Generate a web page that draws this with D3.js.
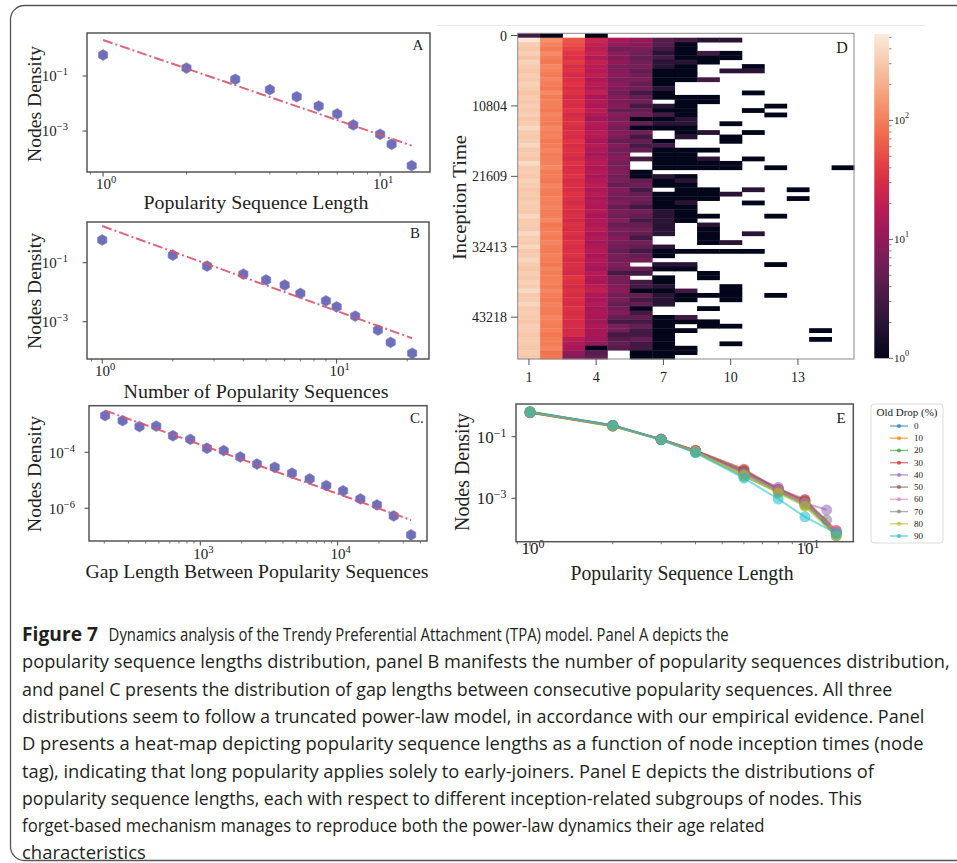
<!DOCTYPE html>
<html>
<head>
<meta charset="utf-8">
<script src="https://d3js.org/d3.v7.min.js"></script>
<style>
  body { margin: 0; background: #fff; }
  svg { display: block; }
  .serif { font-family: "Liberation Serif", "DejaVu Serif", serif; fill: #222; }
  .caption { font-family: "Open Sans", "Noto Sans", sans-serif; font-size: 19px; fill: #231f20; }
</style>
</head>
<body>
<svg id="fig" width="957" height="863"></svg>
<script>
// ---- panel A: popularity sequence length distribution
const seqLenX = [1, 2, 3, 4, 5, 6, 7, 8, 10, 11, 13];
const seqLenY = [0.58, 0.195, 0.076, 0.032, 0.0177, 0.0081, 0.0042, 0.00166, 0.00076, 0.00033, 0.000055];
const seqLenFit = [[1, 2.04], [13, 2.95e-4]];

// ---- panel B: number of popularity sequences
const numSeqX = [1, 2, 2.8, 4, 5, 6, 7, 9, 10, 12, 15, 17, 21];
const numSeqY = [0.59, 0.18, 0.077, 0.041, 0.026, 0.0175, 0.0091, 0.0051, 0.0032, 0.00155, 0.00052, 0.0002, 0.000085];
const numSeqFit = [[1, 1.75], [21, 2.75e-4]];

// ---- panel C: gap length between sequences
const gapX = [203, 272, 361, 478, 632, 846, 1118, 1480, 1955, 2587, 3478, 4649, 6250, 8260, 10940, 14630, 19330, 25570, 34200];
const gapY = [2.04e-3, 1.35e-3, 8.3e-4, 8.6e-4, 3.9e-4, 2.9e-4, 1.39e-4, 1.15e-4, 6.8e-5, 3.8e-5, 2.9e-5, 1.78e-5, 1.12e-5, 6.45e-6, 4.2e-6, 2.15e-6, 1.32e-6, 5.3e-7, 1.12e-7];
const gapFit = [[203, 3.1e-3], [34200, 3.8e-7]];

// ---- panel D: heat-map, rows = inception-time bins, columns = sequence length 1..15
const heatYTickRows = [0, 16, 32, 48, 64];
const heatYTickLabels = ["0", "10804", "21609", "32413", "43218"];
const heatXTicks = [1, 4, 7, 10, 13];
const col1 = [3, 520, 330, 300, 340, 280, 360, 310, 290, 330,
  300, 350, 320, 280, 310, 300, 340, 300, 330, 290,
  310, 400, 320, 300, 330, 380, 300, 320, 290, 420,
  310, 330, 300, 350, 320, 290, 310, 300, 340, 320,
  300, 380, 310, 320, 300, 400, 330, 310, 390, 300,
  320, 380, 310, 290, 330, 300, 350, 320, 400, 300,
  310, 370, 300, 330, 310, 290, 340, 320, 300, 330,
  310, 290, 320, 300];
const col2 = [1, 130, 110, 95, 120, 100, 90, 115, 105, 95,
  110, 100, 90, 120, 95, 105, 100, 90, 110, 100,
  95, 115, 100, 105, 90, 100, 110, 95, 100, 105,
  120, 95, 100, 90, 110, 100, 95, 105, 100, 110,
  95, 100, 115, 90, 100, 105, 95, 110, 100, 95,
  105, 100, 90, 110, 95, 100, 105, 95, 115, 100,
  90, 105, 100, 95, 110, 100, 95, 105, 90, 100,
  95, 110, 85, 90];
const col3 = [0, 56, 52, 44, 36, 32, 40, 30, 34, 29,
  32, 36, 30, 34, 28, 32, 30, 35, 29, 32,
  34, 30, 32, 29, 36, 30, 34, 32, 28, 35,
  30, 32, 34, 29, 32, 30, 35, 32, 29, 34,
  30, 32, 28, 34, 30, 32, 29, 35, 30, 32,
  34, 29, 32, 30, 28, 38, 32, 29, 34, 30,
  32, 29, 34, 30, 32, 29, 30, 27, 29, 18,
  16, 14, 10, 8];
const col4 = [1, 24, 20, 18, 22, 16, 20, 18, 17, 19,
  15, 18, 16, 20, 14, 17, 15, 18, 16, 12,
  17, 15, 18, 16, 14, 17, 15, 13, 16, 18,
  15, 17, 14, 16, 18, 15, 17, 14, 16, 15,
  17, 14, 16, 15, 18, 14, 16, 13, 15, 17,
  14, 16, 15, 13, 17, 15, 14, 18, 20, 15,
  14, 16, 13, 15, 14, 12, 15, 13, 14, 12,
  10, 1, 4, 5];
const col5 = [0, 14, 10, 6, 9, 8, 10, 7, 8, 9,
  7, 9, 8, 6, 8, 7, 9, 5, 8, 7,
  9, 6, 8, 7, 5, 8, 6, 7, 9, 6,
  7, 8, 6, 7, 5, 8, 7, 6, 8, 5,
  7, 6, 8, 5, 7, 6, 8, 7, 6, 5,
  7, 6, 8, 6, 3, 7, 6, 8, 9, 6,
  7, 5, 6, 8, 5, 3, 7, 6, 3, 4,
  5, 4, 0, 0];
const col6 = [0, 10, 9, 7, 6, 5, 6, 7, 5, 6,
  7, 5, 6, 3, 5, 6, 3, 5, 6, 1,
  5, 1, 6, 3, 5, 3, 5, 0, 3, 0,
  0, 1, 1, 5, 6, 3, 5, 6, 5, 3,
  6, 5, 3, 5, 6, 5, 3, 6, 5, 3,
  5, 6, 0, 5, 3, 0, 3, 3, 1, 5,
  3, 5, 1, 3, 5, 3, 5, 3, 3, 5,
  3, 3, 1, 1];
const col7 = [0, 4, 4, 3, 2, 3, 2, 2, 1, 1,
  1, 1, 2, 1, 1, 0, 2, 1, 3, 1,
  2, 1, 0, 0, 1, 3, 1, 1, 1, 1,
  1, 0, 2, 1, 1, 0, 1, 1, 1, 1,
  2, 2, 2, 2, 2, 2, 0, 0, 2, 1,
  1, 0, 2, 1, 0, 1, 1, 2, 1, 2,
  2, 2, 0, 0, 1, 1, 1, 1, 1, 1,
  1, 1, 1, 1];
const col8 = [0, 3, 1, 1, 1, 1, 2, 1, 1, 1,
  1, 0, 0, 0, 1, 1, 1, 1, 1, 2,
  2, 1, 1, 2, 0, 0, 1, 1, 1, 1,
  1, 0, 1, 2, 1, 1, 1, 1, 2, 1,
  1, 1, 1, 0, 0, 0, 0, 0, 0, 1,
  0, 0, 2, 1, 0, 0, 0, 0, 3, 1,
  1, 0, 0, 0, 3, 1, 0, 1, 0, 0,
  0, 1, 1, 0];
// sparse long-sequence cells: [column, row, count]
const sparseCells = [
  [9, 1, 2], [9, 4, 3], [9, 5, 1], [9, 6, 1], [9, 10, 3], [9, 14, 1], [9, 15, 1], [9, 22, 2],
  [9, 26, 1], [9, 28, 2], [9, 29, 1], [9, 30, 1], [9, 35, 1], [9, 36, 1], [9, 37, 1], [9, 41, 1],
  [9, 43, 2], [9, 44, 1], [9, 45, 1], [9, 46, 1], [9, 47, 1], [9, 49, 1], [9, 54, 1], [9, 55, 1],
  [9, 59, 1], [9, 62, 1], [9, 65, 1], [9, 66, 1],
  [10, 1, 2], [10, 4, 1], [10, 5, 1], [10, 8, 2], [10, 20, 1], [10, 23, 1], [10, 24, 1], [10, 29, 1],
  [10, 30, 1], [10, 36, 2], [10, 47, 2], [10, 49, 1], [10, 57, 1], [10, 58, 1], [10, 59, 1],
  [10, 60, 1], [10, 66, 1], [10, 70, 1],
  [11, 7, 1], [11, 8, 2], [11, 13, 1], [11, 17, 1], [11, 22, 1], [11, 28, 1], [11, 35, 2],
  [11, 38, 1], [11, 45, 2], [11, 49, 1],
  [12, 16, 1], [12, 18, 1], [12, 30, 1], [12, 41, 1], [12, 52, 1], [12, 59, 1],
  [13, 35, 1], [13, 37, 1],
  [14, 67, 1], [14, 69, 1],
  [15, 30, 1]
];
const rocket = ["#03051a", "#35193e", "#701f57", "#ad1759", "#e13342", "#f37651", "#f6b48f", "#faebdd"];

// ---- panel E: sequence length by old-drop percentage
const dropLevels = [0, 10, 20, 30, 40, 50, 60, 70, 80, 90];
const dropColors = ["#1f77b4", "#ff7f0e", "#2ca02c", "#d62728", "#9467bd", "#8c564b", "#e377c2", "#7f7f7f", "#bcbd22", "#17becf"];
const dropX = [1, 2, 3, 4, 6, 8, 10, 13];
const dropXShort = [1, 2, 3, 4, 6, 8, 10, 12];
const dropY = [
  [0.63, 0.235, 0.082, 0.034, 0.0075, 0.0019, 0.00075, 0.00006],
  [0.62, 0.225, 0.081, 0.034, 0.0070, 0.0016, 0.0008, 0.000075],
  [0.66, 0.23, 0.080, 0.031, 0.0052, 0.0016, 0.0006, 0.00007],
  [0.60, 0.22, 0.083, 0.036, 0.0088, 0.0020, 0.00092, 0.00009],
  [0.62, 0.23, 0.082, 0.035, 0.0068, 0.0023, 0.0007, 0.00042],
  [0.61, 0.225, 0.082, 0.035, 0.0080, 0.0019, 0.00085, 0.00008],
  [0.62, 0.23, 0.081, 0.034, 0.0060, 0.0018, 0.0007, 0.00009],
  [0.62, 0.23, 0.081, 0.034, 0.0065, 0.0017, 0.00065, 0.0002],
  [0.62, 0.22, 0.080, 0.033, 0.0055, 0.0015, 0.00055, 0.00006],
  [0.64, 0.23, 0.080, 0.030, 0.0045, 0.00095, 0.00025, 0.000074]
];
const dropShortSeries = [40, 70];

// ---- caption
const captionLines = [
  "Dynamics analysis of the Trendy Preferential Attachment (TPA) model. Panel A depicts the",
  "popularity sequence lengths distribution, panel B manifests the number of popularity sequences distribution,",
  "and panel C presents the distribution of gap lengths between consecutive popularity sequences. All three",
  "distributions seem to follow a truncated power-law model, in accordance with our empirical evidence. Panel",
  "D presents a heat-map depicting popularity sequence lengths as a function of node inception times (node",
  "tag), indicating that long popularity applies solely to early-joiners. Panel E depicts the distributions of",
  "popularity sequence lengths, each with respect to different inception-related subgroups of nodes. This",
  "forget-based mechanism manages to reproduce both the power-law dynamics their age related",
  "characteristics"
];
const captionStarts = [108.6, 22, 22, 22, 22, 22, 22, 22, 22];
const captionEnds = [729, 950, 893, 925, 924, 875, 863, 765, 146];

const svg = d3.select("#fig");

// outer rounded frame and the faint image edge above panel D
svg.append("rect").attr("x", 10.5).attr("y", 5.5).attr("width", 990).attr("height", 855)
   .attr("rx", 14).attr("fill", "none").attr("stroke", "#555").attr("stroke-width", 1.3);
svg.append("line").attr("x1", 437).attr("x2", 925).attr("y1", 25.5).attr("y2", 25.5)
   .attr("stroke", "#ececec");

function powLabel(text, exp, supSize) {
  text.append("tspan").text("10");
  text.append("tspan").attr("dy", -6).attr("font-size", supSize)
      .text(exp < 0 ? "\u2212" + (-exp) : exp);
}

function hexPath(r) {
  const pts = d3.range(6).map(i => {
    const a = Math.PI / 2 + i * Math.PI / 3;
    return [r * Math.cos(a), -r * Math.sin(a)];
  });
  return "M" + pts.join("L") + "Z";
}

function minorTicks(domain) {
  const out = [];
  const k0 = Math.floor(Math.log10(domain[0])), k1 = Math.ceil(Math.log10(domain[1]));
  for (let k = k0; k <= k1; k++) {
    for (let m = 2; m <= 9; m++) {
      const v = m * Math.pow(10, k);
      if (v > domain[0] && v < domain[1]) out.push(v);
    }
  }
  return out;
}

function logPanel(p) {
  const x = d3.scaleLog().domain(p.xd).range([p.x0, p.x1]);
  const y = d3.scaleLog().domain(p.yd).range([p.y1, p.y0]);
  const g = svg.append("g");

  g.selectAll("line.mx").data(minorTicks(p.xd)).join("line")
   .attr("x1", d => x(d)).attr("x2", d => x(d))
   .attr("y1", p.y1).attr("y2", p.y1 + 2.5)
   .attr("stroke", "#555").attr("stroke-width", 0.8);
  g.selectAll("line.Mx").data(p.xMajor).join("line")
   .attr("x1", d => x(d)).attr("x2", d => x(d))
   .attr("y1", p.y1).attr("y2", p.y1 + 4.5)
   .attr("stroke", "#444").attr("stroke-width", 1);
  g.selectAll("line.My").data(p.yMajor).join("line")
   .attr("x1", p.x0 - 4.5).attr("x2", p.x0)
   .attr("y1", d => y(d)).attr("y2", d => y(d))
   .attr("stroke", "#444").attr("stroke-width", 1);

  g.selectAll("text.xt").data(p.xMajor).join("text")
   .attr("class", "serif").attr("text-anchor", "middle")
   .attr("x", d => x(d) + 3).attr("y", p.xTickY)
   .attr("font-size", p.tickSize)
   .each(function (d) { powLabel(d3.select(this), Math.round(Math.log10(d)), p.tickSize * 0.7); });
  g.selectAll("text.yt").data(p.yMajor).join("text")
   .attr("class", "serif").attr("text-anchor", "end")
   .attr("x", p.x0 - p.yTickGap).attr("y", d => y(d) + p.tickSize * 0.35)
   .attr("font-size", p.tickSize)
   .each(function (d) { powLabel(d3.select(this), Math.round(Math.log10(d)), p.tickSize * 0.7); });

  g.append("text").attr("class", "serif").attr("text-anchor", "middle")
   .attr("x", (p.xLabelCx)).attr("y", p.xLabelY)
   .attr("font-size", p.labelSize)
   .attr("textLength", p.xLabelW).attr("lengthAdjust", "spacingAndGlyphs")
   .text(p.xLabel);
  g.append("text").attr("class", "serif").attr("text-anchor", "middle")
   .attr("transform", `translate(${p.yLabelX},${p.yLabelCy}) rotate(-90)`)
   .attr("font-size", p.labelSize)
   .attr("textLength", p.yLabelW).attr("lengthAdjust", "spacingAndGlyphs")
   .text(p.yLabel);

  return { g, x, y };
}

function frame(g, p) {
  g.append("rect").attr("x", p.x0).attr("y", p.y0)
   .attr("width", p.x1 - p.x0).attr("height", p.y1 - p.y0)
   .attr("fill", "none").attr("stroke", "#555").attr("stroke-width", 1.5);
  g.append("text").attr("class", "serif").attr("text-anchor", "middle")
   .attr("x", p.letterX).attr("y", p.letterY).attr("font-size", p.letterSize)
   .text(p.letter);
}

function scatterFit(p, xs, ys, fit) {
  const { g, x, y } = logPanel(p);
  g.selectAll("path.pt").data(xs).join("path")
   .attr("d", hexPath(5.4))
   .attr("transform", (d, i) => `translate(${x(d)},${y(ys[i])})`)
   .attr("fill", "#5656ad").attr("fill-opacity", 0.85)
   .attr("stroke", "#8080c8").attr("stroke-width", 0.6);
  g.append("path").datum(fit)
   .attr("d", d3.line().x(d => x(d[0])).y(d => y(d[1])))
   .attr("fill", "none").attr("stroke", "#d9546f").attr("stroke-width", 2)
   .attr("stroke-opacity", 0.9).attr("stroke-dasharray", "10,3,2,3");
  frame(g, p);
}

const base = { tickSize: 15, labelSize: 18, yLabelW: 116, letterSize: 15 };

scatterFit(Object.assign({}, base, {
  x0: 87, x1: 430, y0: 33, y1: 172,
  xd: [Math.pow(10, -0.058), Math.pow(10, 1.18)], yd: [Math.pow(10, -4.49), Math.pow(10, 0.564)],
  xMajor: [1, 10], yMajor: [0.1, 0.001], xTickY: 189, yTickGap: 19,
  xLabel: "Popularity Sequence Length", xLabelCx: 256, xLabelY: 209, xLabelW: 225,
  yLabel: "Nodes Density", yLabelX: 41, yLabelCy: 104,
  letter: "A", letterX: 418, letterY: 50
}), seqLenX, seqLenY, seqLenFit);

scatterFit(Object.assign({}, base, {
  x0: 87, x1: 429, y0: 222, y1: 359,
  xd: [Math.pow(10, -0.065), Math.pow(10, 1.394)], yd: [Math.pow(10, -4.264), Math.pow(10, 0.38)],
  xMajor: [1, 10], yMajor: [0.1, 0.001], xTickY: 376, yTickGap: 19,
  xLabel: "Number of Popularity Sequences", xLabelCx: 256, xLabelY: 398, xLabelW: 265,
  yLabel: "Nodes Density", yLabelX: 41, yLabelCy: 291,
  letter: "B", letterX: 415, letterY: 238
}), numSeqX, numSeqY, numSeqFit);

scatterFit(Object.assign({}, base, {
  x0: 89, x1: 427, y0: 405.7, y1: 541,
  xd: [Math.pow(10, 2.19), Math.pow(10, 4.65)], yd: [Math.pow(10, -7.17), Math.pow(10, -2.336)],
  xMajor: [1000, 10000], yMajor: [1e-4, 1e-6], xTickY: 559, yTickGap: 14,
  xLabel: "Gap Length Between Popularity Sequences", xLabelCx: 257, xLabelY: 578, xLabelW: 343,
  yLabel: "Nodes Density", yLabelX: 41, yLabelCy: 474,
  letter: "C.", letterX: 417, letterY: 423
}), gapX, gapY, gapFit);

// ---- panel D heat-map
const heatCols = [col1, col2, col3, col4, col5, col6, col7, col8];
const cells = [];
heatCols.forEach((arr, ci) => arr.forEach((v, r) => { if (v > 0) cells.push({ c: ci + 1, r: r, v: v }); }));
sparseCells.forEach(([c, r, v]) => cells.push({ c: c, r: r, v: v }));

const hx = d3.scaleBand().domain(d3.range(1, 16)).range([517.7, 854]);
const hy = d3.scaleBand().domain(d3.range(74)).range([33.3, 359]);
const heatColor = d3.scaleSequentialLog(d3.piecewise(d3.interpolateRgb, rocket)).domain([1, 533]);

const heat = svg.append("g");
heat.selectAll("rect.cell").data(cells).join("rect")
    .attr("x", d => hx(d.c)).attr("y", d => hy(d.r))
    .attr("width", hx.bandwidth() + 0.4).attr("height", hy.bandwidth() + 0.4)
    .attr("fill", d => heatColor(d.v));
heat.append("rect").attr("x", 517.7).attr("y", 33.3).attr("width", 854 - 517.7).attr("height", 359 - 33.3)
    .attr("fill", "none").attr("stroke", "#8a8a8a").attr("stroke-width", 1);

heat.selectAll("line.yt").data(heatYTickRows).join("line")
    .attr("x1", 511).attr("x2", 517.7)
    .attr("y1", d => hy(d) + hy.bandwidth() / 2).attr("y2", d => hy(d) + hy.bandwidth() / 2)
    .attr("stroke", "#555");
heat.selectAll("text.yt").data(heatYTickRows).join("text")
    .attr("class", "serif").attr("text-anchor", "end").attr("font-size", 14)
    .attr("x", 507).attr("y", d => hy(d) + hy.bandwidth() / 2 + 5)
    .text((d, i) => heatYTickLabels[i]);
heat.selectAll("line.xt").data(heatXTicks).join("line")
    .attr("x1", d => hx(d) + hx.bandwidth() / 2).attr("x2", d => hx(d) + hx.bandwidth() / 2)
    .attr("y1", 359).attr("y2", 365).attr("stroke", "#555");
heat.selectAll("text.xt").data(heatXTicks).join("text")
    .attr("class", "serif").attr("text-anchor", "middle").attr("font-size", 14)
    .attr("x", d => hx(d) + hx.bandwidth() / 2).attr("y", 382)
    .text(d => d);
heat.append("text").attr("class", "serif").attr("text-anchor", "middle")
    .attr("transform", "translate(466,197.5) rotate(-90)")
    .attr("font-size", 18).attr("textLength", 125).attr("lengthAdjust", "spacingAndGlyphs")
    .text("Inception Time");
heat.append("text").attr("class", "serif").attr("text-anchor", "middle")
    .attr("x", 842).attr("y", 52.5).attr("font-size", 16).text("D");

// colorbar
const cbY = d3.scaleLog().domain([1, 533]).range([358.3, 34]);
const grad = svg.append("defs").append("linearGradient").attr("id", "cbgrad")
    .attr("x1", 0).attr("x2", 0).attr("y1", 1).attr("y2", 0);
grad.selectAll("stop").data(d3.range(0, 1.0001, 0.05)).join("stop")
    .attr("offset", d => d)
    .attr("stop-color", d => heatColor(Math.pow(533, d)));
svg.append("rect").attr("x", 874.3).attr("y", 34).attr("width", 14.7).attr("height", 324.3)
   .attr("fill", "url(#cbgrad)");
svg.selectAll("line.cbm").data(minorTicks([1, 533])).join("line")
   .attr("x1", 889).attr("x2", 891.5).attr("y1", d => cbY(d)).attr("y2", d => cbY(d))
   .attr("stroke", "#555").attr("stroke-width", 0.7);
svg.selectAll("line.cbM").data([1, 10, 100]).join("line")
   .attr("x1", 889).attr("x2", 893).attr("y1", d => cbY(d)).attr("y2", d => cbY(d))
   .attr("stroke", "#555").attr("stroke-width", 0.9);
svg.selectAll("text.cbl").data([1, 10, 100]).join("text")
   .attr("class", "serif").attr("font-size", 11)
   .attr("x", 894).attr("y", d => cbY(d) + 4)
   .each(function (d) { powLabel(d3.select(this), Math.round(Math.log10(d)), 8); });

// ---- panel E
const pE = Object.assign({}, base, {
  x0: 516, x1: 853.3, y0: 404, y1: 541.7,
  xd: [Math.pow(10, -0.051), Math.pow(10, 1.176)], yd: [Math.pow(10, -4.409), Math.pow(10, 0.062)],
  xMajor: [1, 10], yMajor: [0.1, 0.001], xTickY: 554, yTickGap: 9.5, tickSize: 17, labelSize: 20,
  xLabel: "Popularity Sequence Length", xLabelCx: 682, xLabelY: 580, xLabelW: 223,
  yLabel: "Nodes Density", yLabelX: 469, yLabelCy: 472, yLabelW: 118,
  letter: "E", letterX: 841, letterY: 423
});
const E = logPanel(pE);
const series = dropLevels.map((lvl, i) => ({
  lvl: lvl, color: dropColors[i],
  pts: (dropShortSeries.includes(lvl) ? dropXShort : dropX).map((xv, j) => [xv, dropY[i][j]])
}));
const lineE = d3.line().x(d => E.x(d[0])).y(d => E.y(d[1]));
E.g.selectAll("path.ser").data(series).join("path")
   .attr("d", d => lineE(d.pts)).attr("fill", "none")
   .attr("stroke", d => d.color).attr("stroke-width", 2).attr("stroke-opacity", 0.55);
series.forEach(s => {
  E.g.selectAll(null).data(s.pts).join("circle")
     .attr("cx", d => E.x(d[0])).attr("cy", d => E.y(d[1])).attr("r", 5.5)
     .attr("fill", s.color).attr("fill-opacity", 0.55);
});
frame(E.g, pE);

// legend
const leg = svg.append("g");
leg.append("rect").attr("x", 871).attr("y", 404).attr("width", 72).attr("height", 139)
   .attr("rx", 3).attr("fill", "#fff").attr("stroke", "#dcdcdc");
leg.append("text").attr("class", "serif").attr("text-anchor", "middle")
   .attr("x", 907).attr("y", 416).attr("font-size", 11).text("Old Drop (%)");
const legY = d3.scalePoint().domain(dropLevels).range([426, 536]);
leg.selectAll("line.li").data(dropLevels).join("line")
   .attr("x1", 890).attr("x2", 908).attr("y1", d => legY(d)).attr("y2", d => legY(d))
   .attr("stroke", (d, i) => dropColors[i]).attr("stroke-width", 1.5).attr("stroke-opacity", 0.6);
leg.selectAll("circle.li").data(dropLevels).join("circle")
   .attr("cx", 899).attr("cy", d => legY(d)).attr("r", 2)
   .attr("fill", (d, i) => dropColors[i]).attr("fill-opacity", 0.7);
leg.selectAll("text.li").data(dropLevels).join("text")
   .attr("class", "serif").attr("font-size", 9)
   .attr("x", 914).attr("y", d => legY(d) + 3).text(d => d);

// ---- caption: each line squeezed horizontally to the width of the condensed original
const cap = svg.append("g").attr("class", "caption");
function squeeze(sel, x0, x1, y) {
  const n = sel.node().getComputedTextLength();
  sel.attr("x", 0).attr("y", 0)
     .attr("transform", `translate(${x0},${y}) scale(${(x1 - x0) / n},1)`);
}
squeeze(cap.append("text").attr("font-weight", "bold").text("Figure 7"), 22, 98, 641);
cap.selectAll("text.cl").data(captionLines).join("text")
   .attr("class", "cl").text(d => d)
   .each(function (d, i) {
     squeeze(d3.select(this), captionStarts[i], captionEnds[i], 641 + 27.3 * (i === 0 ? 0 : i));
   });
</script>
</body>
</html>
